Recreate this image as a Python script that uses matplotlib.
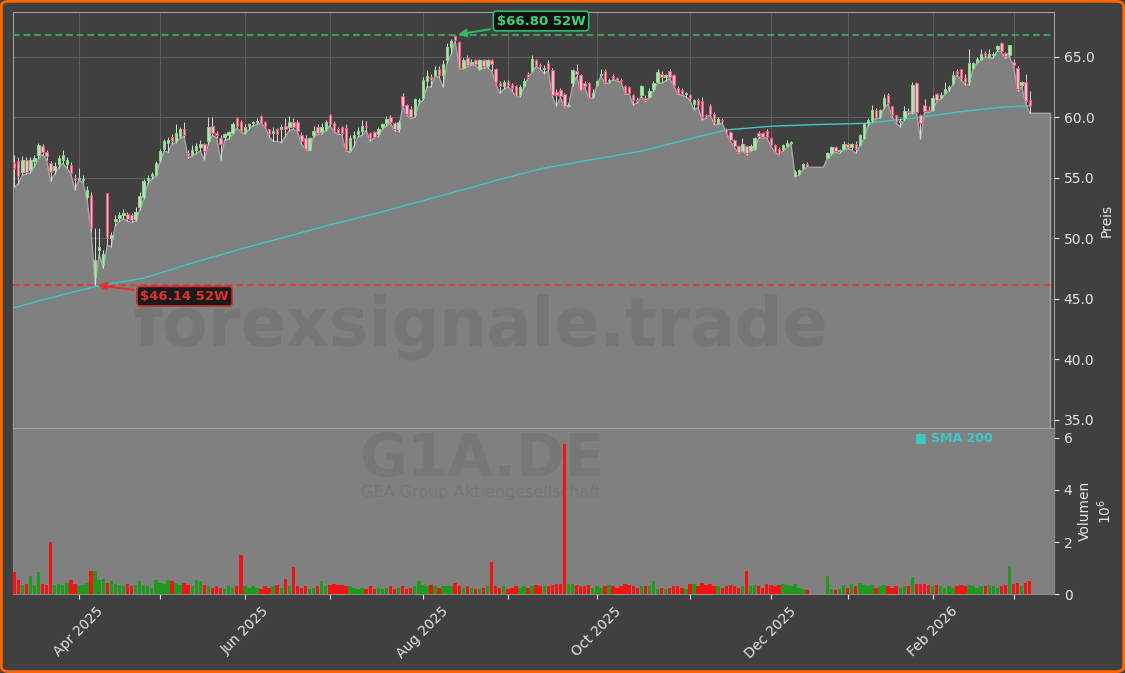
import numpy as np
import pandas as pd
import matplotlib
matplotlib.use('Agg')
import matplotlib.pyplot as plt
from matplotlib.patches import FancyBboxPatch

''' data: G1A.DE daily, 10 Mar 2025 - 6 Mar 2026 (Xetra trading days) '''
holidays = ['2025-04-18', '2025-04-21', '2025-05-01', '2025-12-24', '2025-12-25',
            '2025-12-26', '2025-12-31', '2026-01-01']
dates = pd.bdate_range('2025-03-10', '2026-03-06')
dates = dates[~dates.isin(pd.to_datetime(holidays))]

opens = [56.2, 56.4, 55.5, 56.5, 55.6, 56.4, 56.9, 57.6, 57.1, 56.2,
         55.6, 56.1, 56.5, 56.1, 56.05, 55.0, 54.9, 54.8, 53.4, 53.6,
         46.8, 49.0, 47.9, 53.7, 50.0, 51.4, 51.7, 51.9, 52.0, 51.9,
         51.6, 52.6, 53.4, 54.8, 55.1, 55.2, 56.5, 57.4, 57.9, 58.4,
         58.0, 58.45, 59.0, 57.0, 56.9, 57.3, 57.5, 57.8, 58.0, 59.3,
         58.7, 58.25, 58.4, 58.5, 58.7, 59.9, 59.6, 58.7, 59.3, 59.5,
         59.6, 60.1, 59.6, 59.0, 58.7, 59.0, 59.0, 59.3, 59.2, 59.6,
         59.6, 58.5, 58.25, 57.3, 58.5, 59.2, 58.8, 59.0, 60.2, 59.5,
         59.0, 59.2, 59.1, 57.2, 58.3, 58.6, 58.9, 59.3, 58.7, 58.8,
         58.6, 59.2, 59.5, 60.0, 59.5, 59.0, 61.75, 61.0, 60.7, 60.2,
         61.3, 61.6, 63.0, 63.3, 63.5, 64.0, 63.5, 64.7, 65.8, 66.7,
         66.2, 64.1, 64.9, 64.4, 64.7, 64.0, 64.7, 64.2, 64.7, 64.0,
         62.8, 62.6, 62.9, 62.7, 62.6, 61.8, 62.6, 63.6, 63.8, 64.7,
         64.3, 64.0, 64.5, 63.9, 62.1, 62.25, 61.9, 60.9, 62.8, 63.8,
         63.5, 62.8, 62.8, 61.7, 62.7, 63.5, 63.8, 63.0, 63.4, 63.2,
         63.1, 62.6, 62.5, 61.8, 61.4, 61.8, 61.6, 61.7, 62.3, 62.9,
         63.6, 63.3, 63.8, 63.5, 62.4, 62.25, 61.9, 61.8, 61.1, 61.4,
         61.3, 60.2, 60.9, 60.3, 59.5, 59.8, 59.0, 58.8, 58.1, 57.6,
         57.2, 57.6, 57.3, 57.4, 58.7, 58.7, 58.9, 58.3, 57.7, 57.4,
         57.35, 57.6, 57.9, 55.1, 55.3, 55.8, 56.1, 55.86, 55.86, 55.86,
         55.86, 56.6, 57.0, 57.5, 57.2, 57.4, 57.8, 57.5, 57.8, 57.7,
         58.3, 59.5, 59.8, 60.6, 60.0, 60.9, 61.8, 60.9, 60.2, 59.6,
         59.9, 60.5, 60.46, 62.8, 60.2, 61.0, 60.6, 60.6, 61.9, 61.6,
         62.0, 62.3, 62.8, 63.8, 63.96, 63.2, 62.9, 64.1, 64.6, 64.8,
         65.3, 65.0, 65.1, 65.6, 66.1, 65.3, 65.14, 64.6, 64.1, 62.66, 62.94, 61.4]

highs = [56.9, 56.7, 56.8, 56.7, 56.7, 56.9, 57.9, 57.8, 57.3, 56.4,
         56.3, 56.9, 57.3, 56.7, 56.3, 55.3, 55.8, 55.2, 54.3, 53.8,
         50.8, 50.8, 49.0, 53.7, 50.5, 51.9, 52.2, 52.4, 52.2, 52.1,
         52.6, 53.8, 54.9, 55.2, 55.5, 56.4, 57.4, 58.2, 58.4, 58.6,
         59.4, 59.2, 59.6, 57.3, 57.7, 57.9, 58.1, 57.9, 60.0, 60.0,
         58.9, 58.5, 58.7, 58.9, 59.6, 60.0, 59.8, 59.4, 59.5, 59.7,
         59.9, 60.2, 59.7, 59.0, 59.2, 59.1, 59.4, 59.9, 60.1, 59.9,
         59.8, 58.8, 58.5, 58.4, 59.3, 59.4, 59.5, 59.8, 60.3, 59.7,
         59.2, 59.3, 59.4, 58.5, 58.9, 59.2, 59.8, 59.7, 58.8, 58.9,
         59.2, 59.5, 60.1, 60.2, 59.6, 59.8, 62.0, 61.1, 60.9, 61.6,
         61.6, 63.3, 63.9, 63.6, 64.2, 64.2, 64.7, 66.1, 66.5, 66.80,
         66.3, 64.9, 65.1, 64.8, 64.8, 64.8, 64.8, 64.8, 64.8, 64.1,
         63.0, 63.1, 63.1, 62.8, 62.7, 62.7, 63.2, 63.7, 65.1, 64.8,
         64.5, 64.3, 64.7, 64.1, 62.3, 62.4, 62.0, 61.2, 64.0, 64.4,
         63.6, 63.0, 62.9, 62.3, 63.1, 64.0, 64.0, 63.2, 63.6, 63.3,
         63.2, 62.7, 62.6, 61.9, 61.7, 62.7, 61.8, 62.4, 63.0, 64.0,
         63.8, 63.6, 64.0, 63.6, 62.6, 62.4, 62.1, 61.9, 61.5, 61.6,
         61.7, 60.3, 61.1, 60.4, 60.0, 59.9, 59.1, 58.9, 58.2, 57.7,
         58.3, 57.7, 57.8, 58.4, 58.9, 58.8, 59.0, 58.4, 57.8, 57.5,
         57.8, 58.1, 58.0, 55.6, 55.7, 56.2, 56.3, 55.86, 55.86, 55.86,
         55.86, 57.1, 57.6, 57.6, 57.4, 58.0, 57.9, 57.9, 58.0, 58.6,
         59.5, 59.9, 61.0, 60.8, 60.7, 61.9, 62.0, 60.9, 60.2, 59.9,
         60.9, 60.8, 62.9, 62.9, 60.3, 61.5, 60.9, 61.8, 62.0, 62.1,
         62.9, 62.7, 63.8, 64.0, 64.0, 63.6, 65.6, 64.6, 65.0, 65.6,
         65.5, 65.6, 65.4, 66.0, 66.2, 65.4, 66.0, 64.8, 64.2, 63.0, 63.6, 62.2]

lows = [54.2, 54.5, 55.2, 55.3, 55.4, 55.9, 56.6, 56.9, 56.5, 54.7,
        55.3, 55.8, 56.2, 55.8, 55.3, 54.0, 54.8, 54.6, 53.2, 50.5,
        46.14, 48.7, 47.5, 49.4, 49.3, 51.0, 51.4, 51.6, 51.4, 51.3,
        51.4, 52.3, 53.2, 54.5, 54.9, 55.1, 56.3, 57.2, 57.1, 57.8,
        57.9, 58.3, 58.4, 56.6, 56.8, 57.0, 57.2, 56.5, 57.8, 58.5,
        58.3, 56.5, 58.1, 58.2, 58.6, 59.1, 58.8, 58.6, 59.0, 59.3,
        59.4, 59.5, 59.2, 58.4, 58.0, 58.0, 57.9, 58.4, 58.9, 59.0,
        58.8, 57.8, 57.3, 57.25, 58.4, 58.6, 58.6, 58.9, 59.3, 58.8,
        58.6, 58.5, 57.2, 57.1, 57.6, 58.4, 58.5, 58.9, 58.0, 58.3,
        58.4, 59.0, 59.3, 59.5, 58.9, 58.8, 60.9, 60.2, 59.9, 60.0,
        61.1, 61.4, 62.5, 62.5, 63.4, 63.3, 62.5, 64.5, 65.2, 66.3,
        64.0, 64.0, 64.2, 64.3, 64.3, 63.9, 64.1, 64.1, 63.8, 62.8,
        62.0, 62.3, 62.5, 62.2, 61.7, 61.7, 62.5, 63.2, 63.7, 64.2,
        64.0, 63.6, 63.85, 61.7, 60.9, 61.6, 60.87, 60.87, 62.6, 63.35,
        62.2, 62.5, 61.56, 61.56, 62.6, 63.4, 62.8, 62.8, 63.1, 63.0,
        62.9, 61.9, 61.9, 61.0, 61.2, 61.7, 61.3, 61.6, 62.2, 62.8,
        62.8, 63.0, 63.2, 62.6, 61.9, 61.8, 61.7, 61.4, 60.6, 60.8,
        59.8, 59.9, 60.2, 59.4, 59.4, 59.5, 58.7, 58.0, 57.5, 57.0,
        57.2, 56.9, 57.2, 57.3, 58.3, 58.3, 58.3, 57.6, 57.1, 56.9,
        57.2, 57.5, 57.8, 55.08, 55.2, 55.7, 55.86, 55.86, 55.86, 55.86,
        55.86, 56.6, 56.9, 57.1, 57.0, 57.3, 57.4, 57.3, 57.0, 57.6,
        58.2, 59.3, 59.6, 59.9, 59.9, 60.8, 61.1, 60.0, 59.5, 59.2,
        59.8, 60.3, 60.3, 60.4, 58.2, 60.4, 60.4, 60.5, 61.3, 61.5,
        61.9, 62.2, 62.7, 63.5, 63.1, 62.7, 62.7, 64.0, 64.5, 64.7,
        65.0, 64.9, 64.9, 65.5, 65.4, 64.9, 65.0, 64.2, 62.2, 62.5, 61.2, 60.32]

closes = [55.8, 55.1, 56.5, 55.5, 56.5, 56.6, 57.7, 57.1, 56.8, 55.5,
          56.0, 56.6, 56.9, 56.5, 55.4, 54.8, 55.0, 54.9, 54.0, 50.8,
          48.2, 49.3, 48.7, 50.0, 50.3, 51.6, 51.9, 52.1, 51.6, 51.5,
          52.2, 53.5, 54.7, 55.0, 55.3, 56.2, 57.2, 58.0, 58.1, 58.0,
          58.7, 59.0, 58.5, 56.8, 57.3, 57.6, 57.8, 57.2, 59.2, 58.7,
          58.5, 57.75, 58.6, 58.8, 59.4, 59.3, 58.9, 59.2, 59.4, 59.6,
          59.7, 59.55, 59.3, 58.6, 58.9, 58.6, 59.2, 59.0, 59.6, 59.2,
          58.9, 58.0, 57.4, 58.25, 58.9, 58.7, 59.2, 59.6, 59.4, 58.9,
          58.7, 58.66, 57.3, 58.3, 58.5, 58.9, 59.3, 59.2, 58.3, 58.4,
          59.0, 59.4, 59.85, 59.6, 59.0, 59.6, 60.95, 60.3, 60.0, 61.5,
          61.4, 63.1, 63.4, 63.1, 63.9, 63.5, 64.4, 65.8, 66.3, 66.4,
          64.04, 64.7, 64.3, 64.6, 64.4, 64.7, 64.2, 64.7, 64.4, 62.9,
          62.6, 62.9, 62.7, 62.4, 61.75, 62.5, 63.0, 63.3, 64.8, 64.3,
          64.2, 64.1, 64.0, 61.8, 61.8, 61.75, 60.9, 61.0, 63.9, 63.6,
          62.25, 62.6, 61.6, 62.0, 63.0, 63.6, 62.9, 63.1, 63.2, 63.1,
          63.0, 62.0, 62.0, 61.4, 61.3, 62.6, 61.4, 62.2, 62.8, 63.7,
          63.3, 63.5, 63.3, 62.7, 62.03, 61.9, 61.95, 61.6, 61.4, 61.0,
          60.0, 60.0, 60.3, 59.6, 59.85, 59.7, 58.8, 58.1, 57.6, 57.1,
          57.8, 57.0, 57.6, 58.3, 58.45, 58.4, 58.4, 57.7, 57.15, 56.96,
          57.7, 57.9, 57.9, 55.5, 55.6, 56.1, 55.9, 55.86, 55.86, 55.86,
          55.86, 57.0, 57.5, 57.2, 57.3, 57.8, 57.5, 57.8, 57.35, 58.5,
          59.4, 59.8, 60.6, 60.0, 60.6, 61.6, 61.2, 60.2, 59.6, 59.7,
          60.5, 60.4, 62.66, 60.46, 59.55, 60.5, 60.5, 61.6, 61.4, 61.8,
          62.3, 62.5, 63.5, 63.6, 63.2, 62.9, 64.5, 64.5, 64.8, 65.2,
          65.1, 65.2, 65.2, 65.9, 65.5, 65.06, 65.97, 64.3, 62.3, 62.94, 61.3, 60.93]

# volume in millions of shares
volumes = [0.85, 0.55, 0.35, 0.4, 0.7, 0.35, 0.85, 0.4, 0.35, 2.0,
           0.35, 0.4, 0.35, 0.45, 0.55, 0.4, 0.3, 0.35, 0.45, 0.9,
           0.9, 0.55, 0.6, 0.45, 0.5, 0.4, 0.35, 0.3, 0.4, 0.3,
           0.35, 0.5, 0.35, 0.3, 0.25, 0.55, 0.45, 0.4, 0.55, 0.5,
           0.45, 0.35, 0.45, 0.35, 0.3, 0.55, 0.5, 0.35, 0.3, 0.25,
           0.3, 0.25, 0.2, 0.3, 0.25, 0.3, 1.5, 0.3, 0.25, 0.3,
           0.25, 0.2, 0.3, 0.25, 0.3, 0.35, 0.25, 0.6, 0.3, 1.05,
           0.3, 0.25, 0.3, 0.2, 0.25, 0.3, 0.5, 0.3, 0.35, 0.4,
           0.35, 0.35, 0.3, 0.3, 0.25, 0.2, 0.25, 0.2, 0.3, 0.2,
           0.25, 0.2, 0.25, 0.3, 0.2, 0.25, 0.3, 0.2, 0.25, 0.3,
           0.5, 0.35, 0.3, 0.35, 0.3, 0.25, 0.3, 0.3, 0.3, 0.45,
           0.3, 0.25, 0.3, 0.25, 0.2, 0.2, 0.25, 0.3, 1.25, 0.3,
           0.25, 0.3, 0.2, 0.25, 0.3, 0.25, 0.3, 0.25, 0.3, 0.35,
           0.3, 0.3, 0.3, 0.35, 0.4, 0.4, 5.75, 0.4, 0.4, 0.35,
           0.3, 0.3, 0.35, 0.25, 0.3, 0.25, 0.3, 0.35, 0.3, 0.25,
           0.3, 0.4, 0.35, 0.3, 0.25, 0.3, 0.3, 0.3, 0.5, 0.2,
           0.25, 0.2, 0.25, 0.3, 0.3, 0.25, 0.2, 0.4, 0.4, 0.3,
           0.45, 0.35, 0.4, 0.3, 0.3, 0.25, 0.3, 0.35, 0.3, 0.25,
           0.3, 0.9, 0.3, 0.35, 0.3, 0.25, 0.4, 0.35, 0.3, 0.35,
           0.4, 0.35, 0.3, 0.4, 0.25, 0.2, 0.15, 0, 0, 0,
           0, 0.7, 0.2, 0.15, 0.2, 0.35, 0.25, 0.4, 0.3, 0.45,
           0.35, 0.3, 0.35, 0.25, 0.3, 0.35, 0.3, 0.25, 0.3, 0.25,
           0.3, 0.3, 0.65, 0.4, 0.4, 0.4, 0.35, 0.3, 0.35, 0.3,
           0.25, 0.3, 0.25, 0.3, 0.35, 0.3, 0.35, 0.3, 0.25, 0.3,
           0.3, 0.35, 0.3, 0.25, 0.3, 0.35, 1.1, 0.4, 0.45, 0.3, 0.45, 0.5]

# SMA 200 (bar index -> value)
sma_idx = [0, 7, 20, 32, 44, 57, 66, 78, 90, 101, 112, 121, 131, 143, 155, 165,
           176, 187, 197, 211, 224, 235, 245, 251]
sma_val = [44.25, 44.9, 46.0, 46.7, 47.95, 49.2, 50.0, 51.1, 52.1, 53.1, 54.1, 54.95,
           55.8, 56.5, 57.2, 58.05, 58.95, 59.25, 59.38, 59.5, 60.0, 60.5, 60.85, 60.95]

ticker = 'G1A.DE'
company = 'GEA Group Aktiengesellschaft'


''' plot '''
o = np.array(opens); h = np.array(highs); l = np.array(lows); c = np.array(closes)
v = np.array(volumes)
n = len(dates)
x = np.arange(n)

bg = '#404040'
txt = '#e6e6e6'
fig = plt.figure(figsize=(11.25, 6.73), dpi=100, facecolor=bg)
W, H = 1125., 673.
ax = fig.add_axes([13/W, 1-428/H, (1054-13)/W, (428-12.3)/H])
axv = fig.add_axes([13/W, 1-594.3/H, (1054-13)/W, (594.3-428)/H], sharex=ax)

# price panel
ax.set_facecolor(bg)
ax.grid(True, color='#5e5e5e', lw=0.8)
ax.set_axisbelow(True)
xf = np.append(x, x[-1] + 5)
lf = np.append(l, l[-1])
ax.fill_between(xf, lf, 0, color='#808080', lw=0, zorder=1)
ax.plot(xf, lf, color='#a8a8a8', lw=1, zorder=2)
ax.vlines(xf[-1], 0, lf[-1], color='#a8a8a8', lw=1, zorder=2)

ax.text(0.4496, 0.243, 'forexsignale.trade', transform=ax.transAxes, fontsize=48,
        fontweight='bold', color='#767676', ha='center', va='center', zorder=1.5)

hi_i = int(np.argmax(h)); lo_i = int(np.argmin(l))
ax.axhline(h[hi_i], color='#3aa060', lw=1.5, dashes=(3.2, 1.9), zorder=3)
ax.axhline(l[lo_i], color='#d04444', lw=1.5, dashes=(3.2, 1.9), zorder=3)

ax.plot(sma_idx, sma_val, color='#40c8c8', lw=1, zorder=3.5)

trade = v > 0
up = c >= o
edges = np.where(up, '#7be07b', '#ff5078')
ax.vlines(x[trade], l[trade], h[trade], color='#dcdcdc', lw=0.7, zorder=4)
ax.bar(x[trade], np.maximum(np.abs(c - o), 0.06)[trade], bottom=np.minimum(o, c)[trade],
       width=0.6, color='#cfcfcf', edgecolor=edges[trade], lw=0.75, zorder=5)

ax.annotate('\\$%.2f 52W' % h[hi_i], xy=(hi_i, h[hi_i]), xytext=(130.2, 67.95),
            ha='center', va='center', fontsize=9.5, fontweight='bold', color='#3dd27a', zorder=6,
            bbox=dict(boxstyle='round,pad=0.25', fc='#111111', ec='#2fb865', lw=1.2),
            arrowprops=dict(arrowstyle='-|>', color='#2fb865', lw=1.5, mutation_scale=12))
ax.annotate('\\$%.2f 52W' % l[lo_i], xy=(lo_i, l[lo_i]), xytext=(42.1, 45.2),
            ha='center', va='center', fontsize=9.5, fontweight='bold', color='#e03030', zorder=6,
            bbox=dict(boxstyle='round,pad=0.25', fc='#1a1a1a', ec='#d03030', lw=1.2),
            arrowprops=dict(arrowstyle='-|>', color='#e03030', lw=1.5, mutation_scale=12))

ax.set_ylim(34.31, 68.67)
ax.set_yticks(np.arange(35, 66, 5))
ax.yaxis.set_major_formatter(plt.FormatStrFormatter('%.1f'))
ax.yaxis.tick_right()
ax.yaxis.set_label_position('right')
ax.set_ylabel('Preis', color=txt, fontsize=10)
ax.tick_params(axis='y', colors=txt, labelsize=10)
ax.tick_params(axis='x', length=0, labelbottom=False)
for s in ax.spines.values():
    s.set_color('#a0a0a0'); s.set_linewidth(0.8)

# volume panel
axv.set_facecolor('#808080')
vcol = np.where(up, '#1f9a1f', '#f01414')
axv.bar(x, v, width=0.85, color=vcol, zorder=3)
axv.set_ylim(0, 6.37)
axv.set_yticks([0, 2, 4, 6])
axv.yaxis.tick_right()
axv.yaxis.set_label_position('right')
axv.set_ylabel('Volumen\n$10^6$', color=txt, fontsize=10)
axv.tick_params(axis='y', colors=txt, labelsize=10)
for s in ['left', 'right', 'bottom']:
    axv.spines[s].set_color('#8a8a8a')
axv.spines['top'].set_color('#a0a0a0')

axv.text(0.4505, 0.81, ticker, transform=axv.transAxes, fontsize=42, fontweight='bold',
         color='#777777', ha='center', va='center', zorder=1)
axv.text(0.45, 0.615, company, transform=axv.transAxes, fontsize=11.5,
         color='#777777', ha='center', va='center', zorder=1)
axv.text(0.866, 0.94, '\u25a0 SMA 200', transform=axv.transAxes, fontsize=9, fontweight='bold',
         color='#40c8c8', ha='left', va='center', zorder=4)

# month ticks (first trading day of each month, skip the partial first month)
month = dates.to_period('M')
first = np.flatnonzero(np.r_[False, month[1:] != month[:-1]])
labels = [d.strftime('%b %Y') if d.month % 2 == 0 else '' for d in dates[first]]
axv.set_xticks(first)
axv.set_xticklabels(labels, rotation=45, ha='center')
axv.tick_params(axis='x', colors=txt, labelsize=10)
axv.set_xlim(-0.3, 257)

fig.patches.append(FancyBboxPatch((0.0012, 0.002), 0.9976, 0.996,
                                  boxstyle='round,pad=0,rounding_size=0.007',
                                  transform=fig.transFigure, fill=False,
                                  ec='#ff6600', lw=2))

fig.savefig('out.png', dpi=100, facecolor=bg)
